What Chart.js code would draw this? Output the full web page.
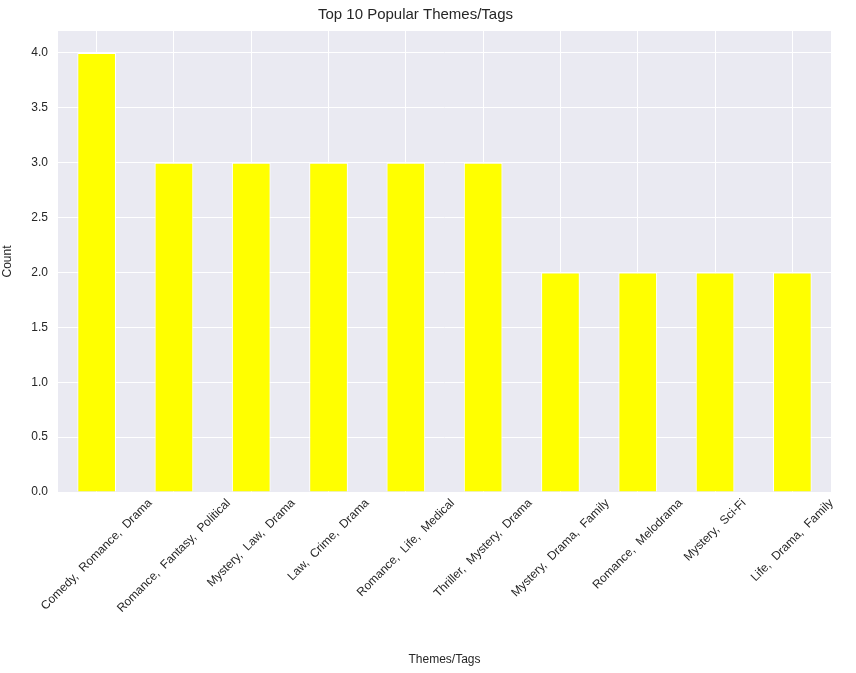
<!DOCTYPE html>
<html>
<head>
<meta charset="utf-8">
<script src="https://cdn.jsdelivr.net/npm/chart.js@4"></script>
<style>
  html, body { margin: 0; padding: 0; background: #fff; }
  #wrap { width: 856px; height: 673px; }
</style>
</head>
<body>
<div id="wrap"><canvas id="themesChart" width="856" height="673"></canvas></div>
<script>
const themes = [
    "Comedy,  Romance,  Drama",
    "Romance,  Fantasy,  Political",
    "Mystery,  Law,  Drama",
    "Law,  Crime,  Drama",
    "Romance,  Life,  Medical",
    "Thriller,  Mystery,  Drama",
    "Mystery,  Drama,  Family",
    "Romance,  Melodrama",
    "Mystery,  Sci-Fi",
    "Life,  Drama,  Family"
];
const counts = [4, 3, 3, 3, 3, 3, 2, 2, 2, 2];
const yTicks = [0, 0.5, 1, 1.5, 2, 2.5, 3, 3.5, 4];

const FONT = "Liberation Sans";

// seaborn-like grey plot background
const plotBg = {
    id: "plotBg",
    beforeDraw(chart) {
        const { ctx, chartArea: a } = chart;
        ctx.save();
        ctx.fillStyle = "#EAEAF2";
        ctx.fillRect(a.left, a.top, a.right - a.left, a.bottom - a.top);
        ctx.restore();
    }
};

// rotated labels centred on their tick, like matplotlib rotation=45
const centredLabels = {
    id: "centredLabels",
    afterDraw(chart) {
        const { ctx } = chart;
        const xs = chart.scales.x;
        ctx.save();
        ctx.font = "12px '" + FONT + "'";
        ctx.fillStyle = "#262626";
        ctx.textAlign = "center";
        ctx.textBaseline = "middle";
        const s = Math.SQRT1_2;
        themes.forEach((t, i) => {
            const x = xs.getPixelForTick(i);
            const w = ctx.measureText(t).width;
            const h = 12;
            const boxH = (w + h) * s;
            const y = xs.top + 5 + boxH / 2;
            ctx.save();
            ctx.translate(x, y);
            ctx.rotate(-Math.PI / 4);
            ctx.fillText(t, 0, 0);
            ctx.restore();
        });
        ctx.restore();
    }
};

const ctx = document.getElementById("themesChart").getContext("2d");
new Chart(ctx, {
    type: "bar",
    data: {
        labels: themes,
        datasets: [{
            label: "Count",
            data: counts,
            backgroundColor: "#FFFF00",
            borderColor: "#FFFFFF",
            borderWidth: 1,
            categoryPercentage: 0.5,
            barPercentage: 1.0
        }]
    },
    options: {
        responsive: false,
        animation: false,
        layout: { padding: { left: 0, right: 25, top: 0, bottom: 0 } },
        plugins: {
            legend: { display: false },
            tooltip: { enabled: false },
            title: {
                display: true,
                text: "Top 10 Popular Themes/Tags",
                color: "#262626",
                font: { family: FONT, size: 15, weight: "normal" },
                padding: { top: 6, bottom: 7 }
            }
        },
        scales: {
            x: {
                offset: true,
                grid: { color: "#FFFFFF", lineWidth: 1, offset: false, drawTicks: false },
                border: { display: false },
                ticks: { display: false },
                title: {
                    display: true,
                    text: "Themes/Tags",
                    color: "#262626",
                    font: { family: FONT, size: 12 },
                    padding: { top: 4, bottom: 6 }
                },
                afterFit(scale) { scale.height = 181; }
            },
            y: {
                min: 0,
                max: 4.2,
                afterBuildTicks(scale) { scale.ticks = yTicks.map(v => ({ value: v })); },
                grid: { color: "#FFFFFF", lineWidth: 1, drawTicks: false },
                border: { display: false },
                ticks: {
                    color: "#262626",
                    font: { family: FONT, size: 12 },
                    padding: 10,
                    callback: (v) => Number(v).toFixed(1)
                },
                title: {
                    display: true,
                    text: "Count",
                    color: "#262626",
                    font: { family: FONT, size: 12 },
                    padding: { top: 0, bottom: 4 }
                },
                afterFit(scale) { scale.width = 58; }
            }
        }
    },
    plugins: [plotBg, centredLabels]
});
</script>
</body>
</html>
